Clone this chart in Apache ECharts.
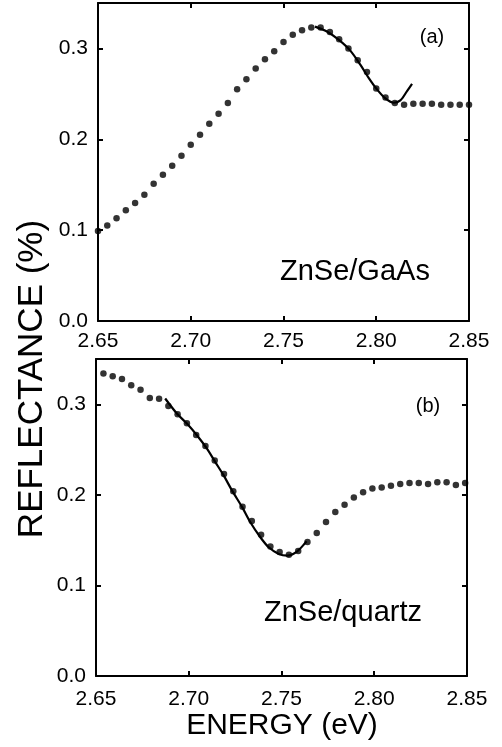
<!DOCTYPE html>
<html>
<head>
<meta charset="utf-8">
<script src="https://cdn.jsdelivr.net/npm/echarts@6/dist/echarts.min.js"></script>
<style>
  html, body { margin: 0; padding: 0; background: #fff; }
  #main { width: 502px; height: 747px; }
</style>
</head>
<body>
<div id="main"></div>
<script>
// (a) ZnSe/GaAs - measured points
var energyA = [2.650, 2.655, 2.660, 2.665, 2.670, 2.675, 2.680, 2.685, 2.690, 2.695,
    2.700, 2.705, 2.710, 2.715, 2.720, 2.725, 2.730, 2.735, 2.740, 2.745,
    2.750, 2.755, 2.760, 2.765, 2.770, 2.775, 2.780, 2.785, 2.790, 2.795,
    2.800, 2.805, 2.810, 2.815, 2.820, 2.825, 2.830, 2.835, 2.840, 2.845, 2.850];
var reflA = [0.099, 0.105, 0.113, 0.122, 0.130, 0.139, 0.151, 0.161, 0.171, 0.182,
    0.194, 0.205, 0.217, 0.228, 0.240, 0.255, 0.266, 0.278, 0.288, 0.297,
    0.307, 0.315, 0.320, 0.323, 0.323, 0.318, 0.310, 0.300, 0.287, 0.274,
    0.256, 0.246, 0.240, 0.238, 0.239, 0.239, 0.239, 0.238, 0.238, 0.238, 0.238];
// (a) fit curve
var fitEA = [2.7670, 2.7734, 2.7797, 2.7860, 2.7914, 2.7959, 2.8004, 2.8049, 2.8094, 2.8130, 2.8166, 2.8193];
var fitRA = [0.3240, 0.3187, 0.3096, 0.2976, 0.2822, 0.2676, 0.2549, 0.2450, 0.2402, 0.2428, 0.2530, 0.2610];

// (b) ZnSe/quartz - measured points
var energyB = [2.654, 2.659, 2.664, 2.669, 2.674, 2.679, 2.684, 2.689, 2.694, 2.699,
    2.704, 2.709, 2.714, 2.719, 2.724, 2.729, 2.734, 2.739, 2.744, 2.749,
    2.754, 2.759, 2.764, 2.769, 2.774, 2.779, 2.784, 2.789, 2.794, 2.799,
    2.804, 2.809, 2.814, 2.819, 2.824, 2.829, 2.834, 2.839, 2.844, 2.849];
var reflB = [0.334, 0.331, 0.328, 0.321, 0.316, 0.307, 0.306, 0.298, 0.289, 0.279,
    0.266, 0.254, 0.238, 0.223, 0.204, 0.187, 0.171, 0.156, 0.143, 0.137,
    0.134, 0.138, 0.148, 0.158, 0.170, 0.181, 0.189, 0.197, 0.203, 0.207,
    0.208, 0.210, 0.212, 0.213, 0.213, 0.212, 0.214, 0.214, 0.211, 0.213];
// (b) fit curve
var fitEB = [2.6873, 2.6936, 2.6990, 2.7044, 2.7098, 2.7143, 2.7188, 2.7233, 2.7288, 2.7332,
    2.7386, 2.7431, 2.7485, 2.7531, 2.7585, 2.7635];
var fitRB = [0.3064, 0.2898, 0.2787, 0.2658, 0.2510, 0.2362, 0.2215, 0.2049, 0.1864, 0.1698,
    0.1532, 0.1421, 0.1348, 0.1329, 0.1377, 0.1488];

var xTicks = [2.65, 2.70, 2.75, 2.80, 2.85];
var yTicks = [0.0, 0.1, 0.2, 0.3];

var FONT = 'Liberation Sans, Arial, sans-serif';

var pairs = function (xs, ys) {
    var out = [];
    for (var i = 0; i < xs.length; i++) out.push([xs[i], ys[i]]);
    return out;
};

var xLabel = function (v) {
    for (var i = 0; i < xTicks.length; i++)
        if (Math.abs(v - xTicks[i]) < 1e-6) return xTicks[i].toFixed(2);
    return '';
};
var yLabel = function (v) {
    for (var i = 0; i < yTicks.length; i++)
        if (Math.abs(v - yTicks[i]) < 1e-6) return yTicks[i].toFixed(1);
    return '';
};

var makeX = function (grid, pos, labels, margin) {
    return {
        type: 'value', gridIndex: grid, position: pos,
        min: 2.65, max: 2.85, interval: 0.05,
        axisLine: { show: true, onZero: false, lineStyle: { color: '#000', width: 2 } },
        axisTick: { show: true, inside: true, length: 5, lineStyle: { color: '#000', width: 2 } },
        axisLabel: { show: labels, formatter: xLabel, color: '#000', fontFamily: FONT, fontSize: 21,
            margin: margin, showMinLabel: true, showMaxLabel: true },
        splitLine: { show: false }
    };
};
var makeY = function (grid, pos, labels) {
    return {
        type: 'value', gridIndex: grid, position: pos,
        min: 0, max: 0.35, interval: 0.1,
        axisLine: { show: true, onZero: false, lineStyle: { color: '#000', width: 2 } },
        axisTick: { show: true, inside: true, length: 5, lineStyle: { color: '#000', width: 2 } },
        axisLabel: { show: labels, formatter: yLabel, color: '#000', fontFamily: FONT, fontSize: 21,
            margin: 10, showMinLabel: true, showMaxLabel: true },
        splitLine: { show: false }
    };
};

var myChart = echarts.init(document.getElementById('main'), null, { renderer: 'canvas' });

var option = {
    backgroundColor: '#fff',
    animation: false,
    grid: [
        { left: 98, right: 33, top: 3, height: 318 },
        { left: 96, right: 35, top: 359, height: 317 }
    ],
    xAxis: [
        makeX(0, 'bottom', true, 10),
        makeX(0, 'top', false, 8),
        makeX(1, 'bottom', true, 13),
        makeX(1, 'top', false, 8)
    ],
    yAxis: [
        makeY(0, 'left', true),
        makeY(0, 'right', false),
        makeY(1, 'left', true),
        makeY(1, 'right', false)
    ],
    graphic: [
        { type: 'text', x: 32, y: 379, rotation: Math.PI / 2,
          style: { text: 'REFLECTANCE (%)', fill: '#000', font: '35px ' + FONT, align: 'center', verticalAlign: 'middle' } },
        { type: 'text', x: 282, y: 726,
          style: { text: 'ENERGY (eV)', fill: '#000', font: '30px ' + FONT, align: 'center', verticalAlign: 'middle' } },
        { type: 'text', x: 432, y: 37,
          style: { text: '(a)', fill: '#000', font: '20px ' + FONT, align: 'center', verticalAlign: 'middle' } },
        { type: 'text', x: 428, y: 406,
          style: { text: '(b)', fill: '#000', font: '20px ' + FONT, align: 'center', verticalAlign: 'middle' } },
        { type: 'text', x: 280, y: 272,
          style: { text: 'ZnSe/GaAs', fill: '#000', font: '29px ' + FONT, align: 'left', verticalAlign: 'middle' } },
        { type: 'text', x: 264, y: 613,
          style: { text: 'ZnSe/quartz', fill: '#000', font: '29px ' + FONT, align: 'left', verticalAlign: 'middle' } }
    ],
    series: [
        { type: 'scatter', xAxisIndex: 0, yAxisIndex: 0, data: pairs(energyA, reflA),
          symbol: 'circle', symbolSize: 6.5, itemStyle: { color: '#000' }, silent: true },
        { type: 'line', xAxisIndex: 0, yAxisIndex: 0, data: pairs(fitEA, fitRA),
          smooth: 0.3, showSymbol: false, lineStyle: { color: '#000', width: 2.2 }, silent: true },
        { type: 'scatter', xAxisIndex: 2, yAxisIndex: 2, data: pairs(energyB, reflB),
          symbol: 'circle', symbolSize: 6.5, itemStyle: { color: '#000' }, silent: true },
        { type: 'line', xAxisIndex: 2, yAxisIndex: 2, data: pairs(fitEB, fitRB),
          smooth: 0.3, showSymbol: false, lineStyle: { color: '#000', width: 2.2 }, silent: true }
    ]
};
myChart.setOption(option);
window.onresize = myChart.resize;
</script>
</body>
</html>
